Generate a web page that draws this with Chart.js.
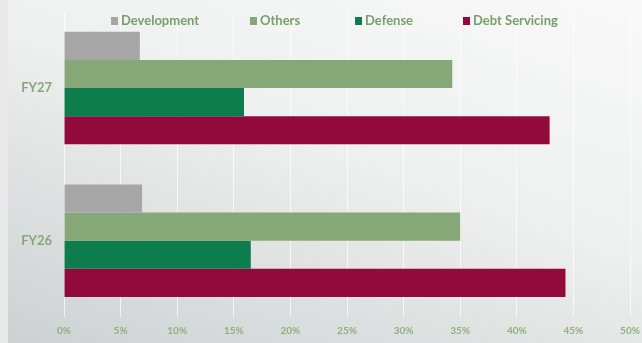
<!DOCTYPE html>
<html>
<head>
<meta charset="utf-8">
<script src="https://cdn.jsdelivr.net/npm/chart.js@4"></script>
<style>
  html, body { margin: 0; padding: 0; }
  body {
    width: 642px; height: 343px; overflow: hidden; position: relative;
    background: linear-gradient(200deg, #f9f9f9 0%, #eeefef 45%, #cdd1d1 100%);
    font-family: Lato, "Open Sans", sans-serif;
  }
  .strip { position: absolute; left: 0; top: 0; width: 8px; height: 343px; background: #e9e9e9; }
  #wrap { position: absolute; left: 0; top: 0; width: 642px; height: 343px; }
  .leg { position: absolute; top: 12px; font-size: 13px; font-weight: bold; color: #7a9e6c; white-space: nowrap; }
  .leg i { display: inline-block; width: 7px; height: 8px; margin-right: 3px; vertical-align: 0px; }
</style>
</head>
<body>
<div class="strip"></div>
<div id="wrap"><canvas id="grafico" width="642" height="343"></canvas></div>
<div id="legenda"></div>
<script>
// categorias e séries
const categorias = ['FY27', 'FY26'];
const desenvolvimento = [6.7, 6.9];
const outros = [34.3, 35.0];
const defesa = [15.9, 16.5];
const servicoDivida = [42.9, 44.3];
const ticksX = ['0%', '5%', '10%', '15%', '20%', '25%', '30%', '35%', '40%', '45%', '50%'];

const series = [
    { label: 'Development', data: desenvolvimento, cor: '#a6a6a6', legX: 111 },
    { label: 'Others', data: outros, cor: '#86a878', legX: 250 },
    { label: 'Defense', data: defesa, cor: '#0d7d4e', legX: 355 },
    { label: 'Debt Servicing', data: servicoDivida, cor: '#920a3b', legX: 463 }
];

// legenda em HTML (fica por cima da área do gráfico)
const legEl = document.getElementById('legenda');
series.forEach(s => {
    const d = document.createElement('div');
    d.className = 'leg';
    d.style.left = s.legX + 'px';
    d.innerHTML = `<i style="background:${s.cor}"></i>${s.label}`;
    legEl.appendChild(d);
});

new Chart(document.getElementById('grafico'), {
    type: 'bar',
    data: {
        labels: categorias,
        datasets: series.map(s => ({
            label: s.label,
            data: s.data,
            backgroundColor: s.cor,
            borderWidth: 0,
            categoryPercentage: 0.737,
            barPercentage: 1
        }))
    },
    options: {
        indexAxis: 'y',
        responsive: false,
        animation: false,
        layout: { padding: { left: 0, right: 12, top: 8, bottom: 0 } },
        plugins: { legend: { display: false }, tooltip: { enabled: false } },
        scales: {
            x: {
                min: 0, max: 50,
                ticks: {
                    stepSize: 5,
                    padding: 8,
                    color: '#8db07e',
                    font: { family: 'Lato', size: 10, weight: 'bold' },
                    callback: (v, i) => ticksX[i]
                },
                grid: { color: 'rgba(255,255,255,0.7)', drawTicks: false },
                border: { display: false },
                afterFit: scale => { scale.height = 26; scale.paddingRight = 0; }
            },
            y: {
                ticks: {
                    color: '#86a878',
                    padding: 4,
                    font: { family: 'Lato', size: 13, weight: 'bold' }
                },
                grid: { display: false },
                border: { display: false },
                afterFit: scale => { scale.width = 64; }
            }
        }
    }
});
</script>
</body>
</html>
